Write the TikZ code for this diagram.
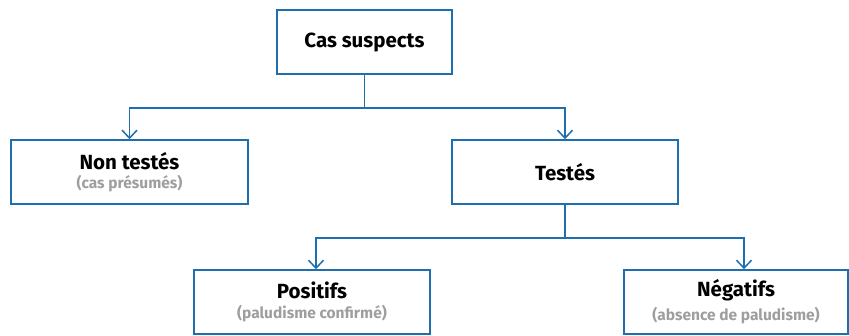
\documentclass[tikz,border=0pt]{standalone}
\usepackage{fontspec}
\usepackage{xcolor}
\usepackage{tikz}
\usetikzlibrary{arrows.meta, positioning, calc}
\newfontfamily\boxfont{Fira Sans}
\newcommand{\titre}[1]{{\fontsize{20.5}{23}\selectfont\bfseries #1}}
\newcommand{\soustitre}[1]{{\fontsize{15.5}{23}\selectfont\color{SousGris}\bfseries #1}}
\definecolor{CadreBleu}{RGB}{31, 111, 174}
\definecolor{SousGris}{RGB}{158, 158, 158}

\begin{document}
\begin{tikzpicture}[x=1pt, y=-1pt, font=\boxfont,
    cadre/.style={draw=CadreBleu, line width=1.5pt, inner sep=0pt, minimum height=64pt, align=center},
    fleche/.style={draw=CadreBleu, line width=1.5pt, -{Straight Barb[length=8pt, width=15pt, line width=1.5pt]}}]
    \useasboundingbox (0,0) rectangle (849,335);
    % les cadres
    \node[cadre, minimum width=175pt] (cas) at (364.5,42) {\titre{Cas suspects}};
    \node[cadre, minimum width=237pt] (nontestes) at (129.5,172) {\titre{Non testés}\\[5pt] \soustitre{(cas présumés)}};
    \node[cadre, minimum width=226pt] (testes) at (565,172) {\titre{Testés}};
    \node[cadre, minimum width=236pt] (positifs) at (312,302) {\titre{Positifs}\\[5pt] \soustitre{(paludisme confirmé)}};
    \node[cadre, minimum width=224pt] (negatifs) at (736,302) {\titre{Négatifs}\\[5pt] \soustitre{(absence de paludisme)}};

    % branches
    \draw[fleche] (cas.south) -- ++(0,33) -| (nontestes.north);
    \draw[fleche] (cas.south) -- ++(0,33) -| (testes.north);
    \draw[fleche] (testes.south) -- ++(0,33) -| ([xshift=4pt]positifs.north);
    \draw[fleche] (testes.south) -- ++(0,33) -| ([xshift=8pt]negatifs.north);
\end{tikzpicture}
\end{document}
